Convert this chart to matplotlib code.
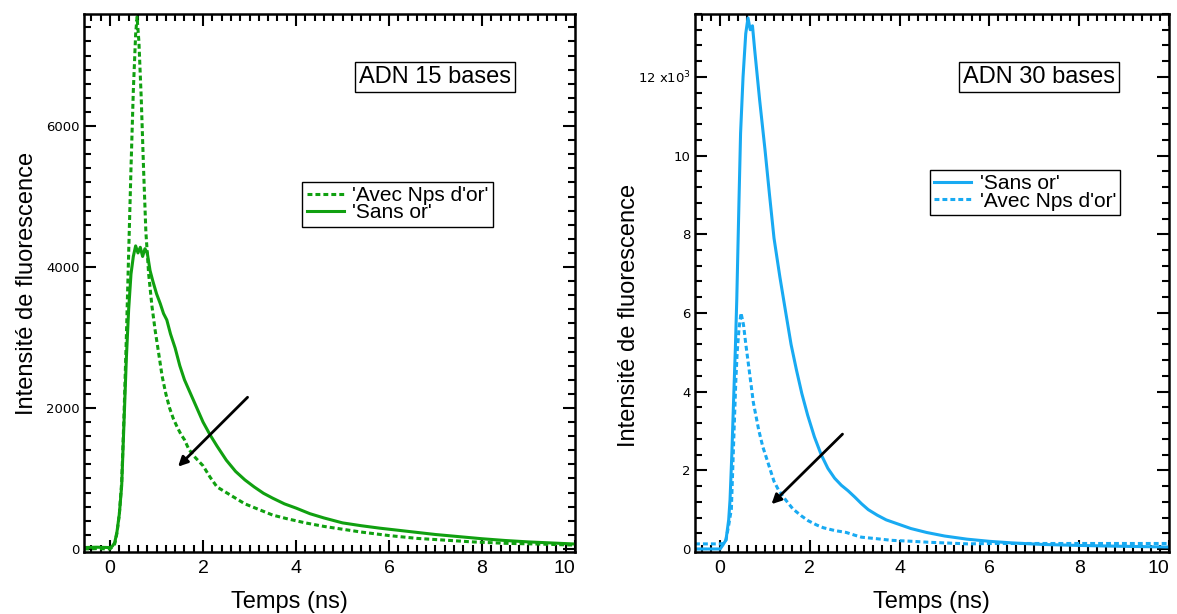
import matplotlib
matplotlib.use("Agg")
import matplotlib.pyplot as plt
from matplotlib.ticker import MultipleLocator, FixedLocator, FixedFormatter

plt.rcParams['font.family'] = ['Liberation Sans', 'DejaVu Sans']

# --- donnees ---
# ADN 15 bases
t15_sans = [-0.56, -0.3, 0.0, 0.05, 0.1, 0.15, 0.2, 0.25, 0.3, 0.35, 0.4, 0.45, 0.5, 0.55, 0.6,
            0.65, 0.7, 0.75, 0.8, 0.86, 0.92, 1.0, 1.08, 1.15, 1.22, 1.3, 1.4, 1.5, 1.6, 1.7,
            1.8, 1.9, 2.0, 2.15, 2.3, 2.5, 2.7, 2.9, 3.1, 3.3, 3.5, 3.75, 4.0, 4.3, 4.6, 5.0,
            5.4, 5.8, 6.2, 6.6, 7.0, 7.5, 8.0, 8.5, 9.0, 9.5, 10.0]
i15_sans = [20, 25, 20, 40, 90, 250, 500, 900, 1800, 2700, 3400, 3900, 4150, 4300, 4200,
            4280, 4150, 4260, 4200, 3950, 3800, 3620, 3480, 3340, 3250, 3050, 2850, 2600, 2400, 2250,
            2100, 1950, 1800, 1620, 1460, 1260, 1100, 980, 880, 790, 720, 640, 580, 500, 440, 370,
            330, 295, 265, 235, 205, 175, 145, 120, 100, 85, 70]
t15_avec = [-0.56, -0.3, 0.0, 0.05, 0.1, 0.15, 0.2, 0.25, 0.3, 0.35, 0.4, 0.45, 0.5, 0.55, 0.58,
            0.62, 0.67, 0.72, 0.77, 0.83, 0.9, 0.97, 1.04, 1.12, 1.2, 1.28, 1.36, 1.45, 1.53, 1.6,
            1.69, 1.8, 1.9, 2.0, 2.15, 2.3, 2.5, 2.7, 2.9, 3.2, 3.5, 3.8, 4.2, 4.6, 5.0, 5.4,
            6.0, 6.6, 7.2, 7.8, 8.5, 9.2, 10.0]
i15_avec = [0, 5, 0, 30, 70, 230, 500, 950, 1900, 3000, 4200, 5400, 6500, 7300, 7550,
            7200, 6400, 5400, 4500, 3900, 3450, 3100, 2800, 2450, 2200, 2000, 1850, 1720, 1620, 1550,
            1420, 1320, 1250, 1180, 1020, 880, 800, 720, 640, 560, 480, 430, 370, 320, 280, 240,
            190, 150, 125, 100, 80, 70, 55]

# ADN 30 bases
t30_sans = [-0.56, -0.3, 0.0, 0.06, 0.13, 0.19, 0.22, 0.26, 0.3, 0.34, 0.37, 0.42, 0.455, 0.51,
            0.57, 0.62, 0.67, 0.72, 0.77, 0.88, 1.0, 1.1, 1.2, 1.33, 1.46, 1.58, 1.7, 1.82,
            1.95, 2.1, 2.25, 2.4, 2.55, 2.7, 2.85, 3.0, 3.15, 3.3, 3.5, 3.7, 3.95, 4.25, 4.6,
            5.0, 5.5, 6.0, 6.5, 7.2, 8.0, 8.9, 10.0]
i30_sans = [0, 0, 0, 100, 230, 740, 1250, 2400, 3800, 5140, 6330, 8870, 10570, 12000,
            13100, 13500, 13200, 13300, 12680, 11410, 10140, 9000, 7900, 6920, 6020, 5200, 4550, 3950,
            3400, 2850, 2400, 2050, 1800, 1620, 1480, 1320, 1150, 1000, 860, 740, 640, 520, 420,
            330, 250, 195, 155, 115, 90, 70, 50]
t30_avec = [-0.56, -0.3, 0.0, 0.08, 0.13, 0.19, 0.25, 0.31, 0.35, 0.38, 0.42, 0.465, 0.52, 0.57,
            0.65, 0.74, 0.86, 0.95, 1.03, 1.12, 1.2, 1.3, 1.41, 1.52, 1.62, 1.8, 1.96, 2.15, 2.3,
            2.55, 2.81, 3.0, 3.15, 3.5, 3.82, 4.2, 4.67, 5.1, 5.52, 6.0, 6.5, 7.0, 8.0, 9.0, 10.0]
i30_avec = [130, 130, 130, 140, 230, 600, 1020, 3020, 4300, 5020, 5600, 6000, 5700, 5220,
            4520, 3720, 3020, 2600, 2320, 2000, 1720, 1500, 1320, 1160, 1020, 850, 720, 610, 540,
            470, 420, 350, 300, 260, 220, 200, 170, 150, 130, 140, 140, 140, 140, 140, 140]

# fleches (depart -> pointe), en unites des donnees
arrow15 = [(3.0, 2180), (1.42, 1140)]
arrow30 = [(2.77, 2970), (1.10, 1090)]

green = '#10a010'
blue = '#18aaf2'
dash = (1.6, 1.0)


def style_axes(ax, ymin, ymax, ymajor, yminor):
    ax.set_xlim(-0.56, 10.0)
    ax.set_ylim(ymin, ymax)
    ax.xaxis.set_major_locator(MultipleLocator(2))
    ax.xaxis.set_minor_locator(MultipleLocator(0.2))
    ax.yaxis.set_major_locator(MultipleLocator(ymajor))
    ax.yaxis.set_minor_locator(MultipleLocator(yminor))
    ax.tick_params(which='both', direction='in', top=True, right=True, width=1.5)
    ax.tick_params(which='major', length=8.5)
    ax.tick_params(which='minor', length=5)
    ax.tick_params(axis='x', which='major', labelsize=14, pad=6)
    ax.tick_params(axis='y', which='major', labelsize=9.5, pad=3)
    for s in ax.spines.values():
        s.set_linewidth(1.8)


def add_box_and_legend(ax, title, title_xy, leg_anchor):
    ax.text(title_xy[0], title_xy[1], title, transform=ax.transAxes, fontsize=17,
            ha='center', va='center',
            bbox=dict(boxstyle='square,pad=0.18', fc='white', ec='black', lw=1.0))
    leg = ax.legend(loc='upper right', bbox_to_anchor=leg_anchor, fontsize=15,
                    frameon=True, fancybox=False, edgecolor='black', framealpha=1,
                    borderpad=0.2, labelspacing=-0.08, handlelength=1.8,
                    handletextpad=0.4, borderaxespad=0)
    leg.get_frame().set_linewidth(1.0)


fig = plt.figure(figsize=(11.77, 6.14), dpi=100)

# --- panneau gauche ---
ax1 = fig.add_axes([0.0714, 0.101, 0.4171, 0.8762])
ax1.plot(t15_avec, i15_avec, color=green, lw=2.2, dashes=dash, label="'Avec Nps d'or'")
ax1.plot(t15_sans, i15_sans, color=green, lw=2.2, label="'Sans or'")
style_axes(ax1, -43, 7590, 2000, 200)
ax1.set_ylabel('Intensité de fluorescence', fontsize=17)
ax1.yaxis.set_label_coords(-0.094, 0.5)
ax1.set_xlabel('Temps (ns)', fontsize=17, va='top')
ax1.xaxis.set_label_coords(0.418, -0.072)
add_box_and_legend(ax1, 'ADN 15 bases', (0.715, 0.883), (0.833, 0.688))
ax1.annotate('', xy=arrow15[1], xytext=arrow15[0],
             arrowprops=dict(arrowstyle='-|>', color='black', lw=2, mutation_scale=14))

# --- panneau droit ---
ax2 = fig.add_axes([0.5905, 0.101, 0.4027, 0.8762])
ax2.plot(t30_sans, i30_sans, color=blue, lw=2.2, label="'Sans or'")
ax2.plot(t30_avec, i30_avec, color=blue, lw=2.2, dashes=dash, label="'Avec Nps d'or'")
style_axes(ax2, -76, 13600, 2000, 400)
ax2.yaxis.set_major_locator(FixedLocator([0, 2000, 4000, 6000, 8000, 10000, 12000]))
ax2.yaxis.set_major_formatter(FixedFormatter(['0', '2', '4', '6', '8', '10', '12 x10$^3$']))
ax2.set_ylabel('Intensité de fluorescence', fontsize=17)
ax2.yaxis.set_label_coords(-0.116, 0.44)
ax2.set_xlabel('Temps (ns)', fontsize=17, va='top')
ax2.xaxis.set_label_coords(0.498, -0.072)
add_box_and_legend(ax2, 'ADN 30 bases', (0.726, 0.883), (0.897, 0.710))
ax2.annotate('', xy=arrow30[1], xytext=arrow30[0],
             arrowprops=dict(arrowstyle='-|>', color='black', lw=2, mutation_scale=14))

# graduations y en DejaVu, dernier label x aligne a droite (comme Igor)
fig.canvas.draw()
for ax in (ax1, ax2):
    for lab in ax.get_yticklabels():
        lab.set_family('DejaVu Sans')
    for lab in ax.get_xticklabels():
        if lab.get_text() == '10':
            lab.set_ha('right')

fig.savefig('out.png', dpi=100)
